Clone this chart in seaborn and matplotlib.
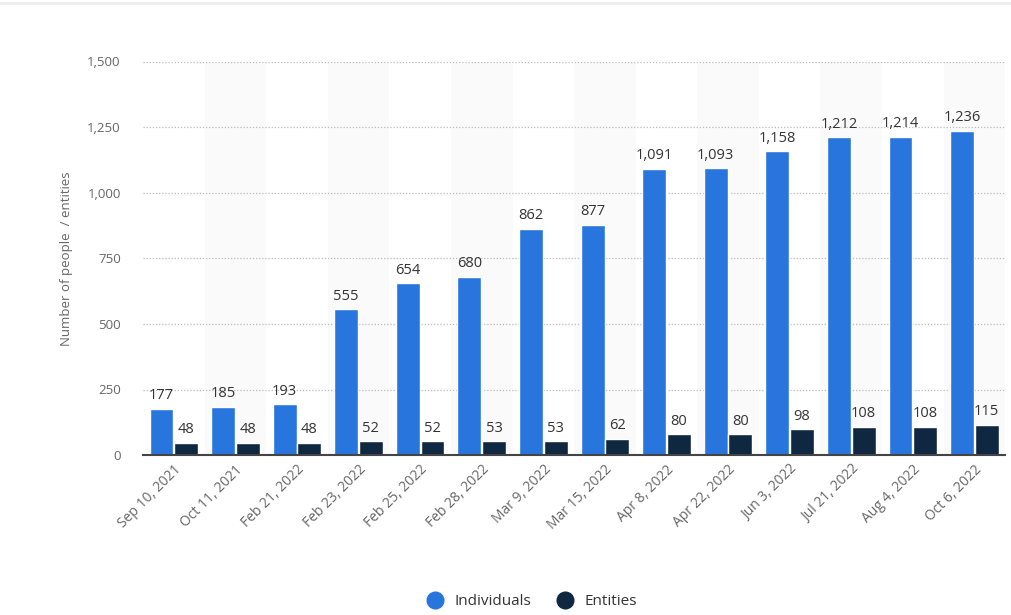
import matplotlib
matplotlib.use("Agg")
import matplotlib.pyplot as plt
from matplotlib.lines import Line2D
import seaborn as sns
import pandas as pd

dates = ["Sep 10, 2021", "Oct 11, 2021", "Feb 21, 2022", "Feb 23, 2022", "Feb 25, 2022",
         "Feb 28, 2022", "Mar 9, 2022", "Mar 15, 2022", "Apr 8, 2022", "Apr 22, 2022",
         "Jun 3, 2022", "Jul 21, 2022", "Aug 4, 2022", "Oct 6, 2022"]
individuals = [177, 185, 193, 555, 654, 680, 862, 877, 1091, 1093, 1158, 1212, 1214, 1236]
entities = [48, 48, 48, 52, 52, 53, 53, 62, 80, 80, 98, 108, 108, 115]
series_names = ["Individuals", "Entities"]
colors = ["#2876dd", "#0f2741"]
yticks = [0, 250, 500, 750, 1000, 1250, 1500]

df = pd.DataFrame({
    "date": dates * 2,
    "value": individuals + entities,
    "series": [series_names[0]] * len(dates) + [series_names[1]] * len(dates),
})

sns.set_theme(style="white")
plt.rcParams["font.family"] = ["Open Sans", "DejaVu Sans"]

fig = plt.figure(figsize=(10.12, 6.15), dpi=100)
ax = fig.add_axes([0.1413, 0.26, 0.852, 0.64])

# alternating background bands
for i in range(len(dates)):
    if i % 2 == 1:
        ax.axvspan(i - 0.5, i + 0.5, color="#fafafa", zorder=0, lw=0)

sns.barplot(data=df, x="date", y="value", hue="series", palette=colors,
            width=0.8, gap=0.03, order=dates, hue_order=series_names,
            ax=ax, legend=False, zorder=3, saturation=1)

for container in ax.containers:
    ax.bar_label(container, labels=[f"{int(v.get_height()):,}" for v in container],
                 padding=4, fontsize=10.5, color="#333333", zorder=4)

ax.set_xlim(-0.5, len(dates) - 0.5)
ax.set_ylim(0, 1500)
ax.set_yticks(yticks)
ax.set_yticklabels([f"{v:,}" for v in yticks], fontsize=9.5, color="#666666")
ax.tick_params(axis="y", length=0, pad=16)
ax.tick_params(axis="x", length=0, pad=5)
plt.setp(ax.get_xticklabels(), rotation=45, ha="right", rotation_mode="anchor",
         fontsize=10, color="#666666")
ax.set_xlabel("")
ax.set_ylabel("Number of people  / entities", fontsize=9.5, color="#666666", labelpad=10)

ax.grid(axis="y", linestyle=(0, (1, 1.5)), color="#bbbbbb", linewidth=0.9, zorder=1)
ax.set_axisbelow(True)
for side in ["top", "right", "left"]:
    ax.spines[side].set_visible(False)
ax.spines["bottom"].set_color("#444444")
ax.spines["bottom"].set_linewidth(1.5)
ax.spines["bottom"].set_zorder(5)

handles = [Line2D([0], [0], marker="o", linestyle="", markersize=12,
                  markerfacecolor=c, markeredgecolor=c) for c in colors]
fig.legend(handles, series_names, loc="center", bbox_to_anchor=(0.522, 0.022),
           ncol=2, frameon=False, fontsize=11, handletextpad=0.3, columnspacing=1.2,
           labelcolor="#333333")

# thin top border line
fig.add_artist(Line2D([0, 1], [0.995, 0.995], color="#eeeeee", linewidth=2,
                      transform=fig.transFigure))

fig.savefig("out.png", dpi=100, facecolor="white")
